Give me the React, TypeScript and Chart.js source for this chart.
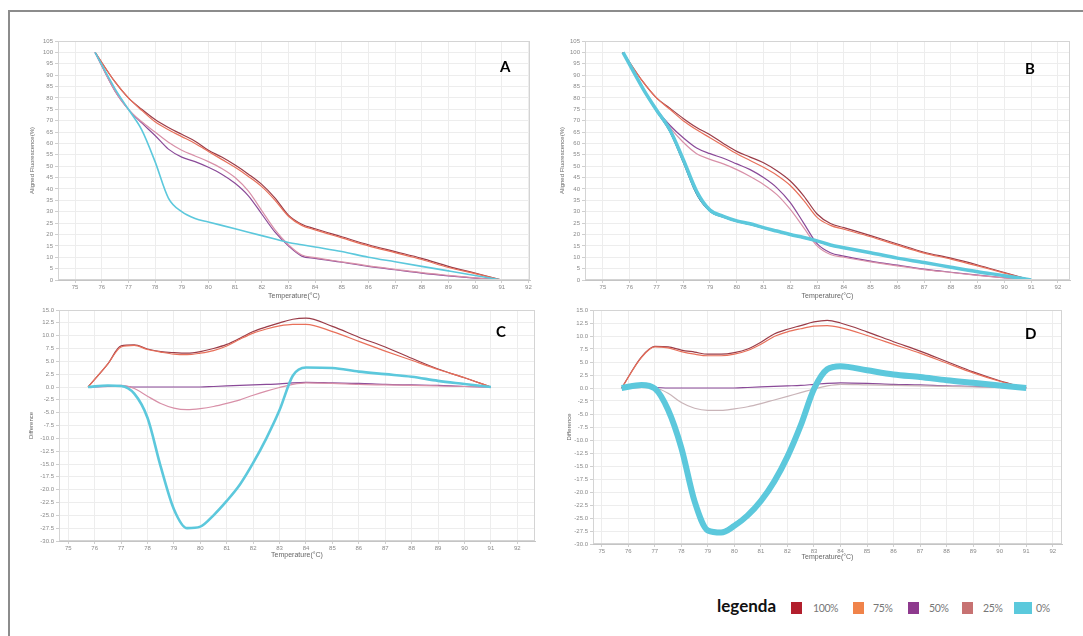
import React, { useEffect, useRef } from 'react';
import { Chart, registerables } from 'chart.js';
Chart.register(...registerables);

// ---------- shared data ----------
const temps = [75.75, 76.5, 77, 77.5, 78, 78.5, 79, 79.5, 80, 80.5, 81, 81.5, 82, 82.5, 83, 83.5, 84, 85, 86, 87, 88, 89, 90, 91];
const xTickValues = [75, 76, 77, 78, 79, 80, 81, 82, 83, 84, 85, 86, 87, 88, 89, 90, 91, 92];
const seriesLabels = ['100%', '75%', '50%', '25%', '0%'];
const legendColors = ['#b21f2d', '#f0834a', '#8e3a8e', '#c77272', '#5bc9dc'];
const lineColors = ['#9a3c48', '#e8705a', '#8a4a98', '#d890a8', '#5cc8dc'];

// ---------- Panel A (aligned fluorescence) ----------
const a100 = [100, 87, 80, 75, 70.5, 67, 64, 61, 57, 54, 50.5, 46.5, 42, 36, 28.5, 24.5, 22.5, 19, 15.5, 12.5, 9.5, 6, 3, 0];
const a75 = [100, 87, 80, 74.5, 69.5, 66, 63, 60, 56.5, 53, 49.5, 45.5, 41, 35, 28, 24, 22, 18.5, 15, 12, 9, 5.5, 2.8, 0];
const a50 = [100, 83, 75, 69, 63.5, 57.5, 54, 52, 49.5, 46.5, 42.5, 37, 29, 21, 15, 10.5, 9.5, 7.8, 6, 4.5, 3, 1.8, 0.8, 0];
const a25 = [100, 83, 75, 69.5, 65, 60.5, 57, 54.5, 52, 49, 45, 39, 30.5, 22, 15.5, 11, 9.8, 8, 6.2, 4.7, 3.2, 2, 0.9, 0];
const a0 = [100, 84, 75, 66, 52, 36, 30, 27, 25.5, 24, 22.5, 21, 19.5, 18, 16.5, 15.5, 14.5, 12.5, 10, 8, 6, 4, 2, 0];

// ---------- Panel B (aligned fluorescence) ----------
const b100 = [100, 87, 80, 75.5, 71, 67, 63.8, 60, 56.5, 54, 51.5, 48, 43.5, 37, 29, 24.8, 23, 19.5, 15.8, 12.2, 9.6, 6.6, 3.3, 0];
const b75 = [100, 87, 80, 75, 70, 66, 62.5, 59, 55.5, 52.5, 49.5, 46, 41.5, 35, 27.5, 24, 22.3, 19, 15.3, 11.8, 9.2, 6.2, 3, 0];
const b50 = [100, 84, 75, 68, 62.5, 58, 55.5, 53.5, 51, 48.5, 45, 40.5, 34, 25, 16, 12, 10.5, 8.3, 6.5, 4.8, 3.4, 2.1, 1, 0];
const b25 = [100, 84, 75, 67, 60.5, 55.5, 53, 51, 48.5, 45.5, 42, 37.5, 31, 23, 15, 11.2, 10, 8, 6.2, 4.6, 3.3, 2, 0.9, 0];
const b0 = [100, 84, 74.7, 66, 53, 39, 30.7, 28, 26, 24.7, 23, 21.5, 20, 18.7, 17.2, 15.4, 14.2, 12, 9.6, 7.7, 5.6, 3.6, 1.9, 0];
const b0rep = [100, 83.5, 74, 65, 51.5, 37.5, 30, 27.5, 25.6, 24.3, 22.7, 21.2, 19.7, 18.4, 16.9, 15.1, 13.9, 11.8, 9.4, 7.5, 5.5, 3.5, 1.8, 0];

// ---------- Panel C (difference) ----------
const c100 = [0, 4.5, 8.0, 8.2, 7.4, 6.9, 6.7, 6.6, 6.9, 7.5, 8.3, 9.5, 10.8, 11.7, 12.5, 13.2, 13.4, 11.8, 9.7, 7.8, 5.6, 3.5, 1.8, 0];
const c75 = [0, 4.5, 7.8, 8.1, 7.3, 6.8, 6.4, 6.3, 6.6, 7.1, 8.0, 9.3, 10.5, 11.3, 11.9, 12.2, 12.2, 10.8, 8.9, 7.0, 5.2, 3.4, 1.8, 0];
const c50 = [0, 0.1, 0.2, 0, 0, 0, 0, 0, 0, 0.1, 0.2, 0.3, 0.4, 0.5, 0.6, 0.8, 0.9, 0.8, 0.7, 0.5, 0.4, 0.3, 0.1, 0];
const c25 = [0, 0.2, 0.3, -0.3, -1.8, -3.2, -4.1, -4.4, -4.2, -3.8, -3.2, -2.5, -1.6, -0.8, -0.1, 0.5, 0.8, 0.7, 0.5, 0.4, 0.3, 0.2, 0.1, 0];
const c0 = [0, 0.3, 0.2, -1.3, -6, -15.5, -23.8, -27.5, -27.2, -25, -22.2, -19, -14.8, -10, -4.5, 2.2, 3.8, 3.7, 3.0, 2.5, 2.0, 1.2, 0.6, 0];

// ---------- Panel D (difference) ----------
const d100 = [0, 6.0, 8.0, 7.9, 7.3, 6.9, 6.5, 6.5, 6.8, 7.5, 8.8, 10.4, 11.3, 12.0, 12.7, 13.0, 12.5, 10.8, 8.9, 7.1, 5.1, 3.1, 1.4, 0];
const d75 = [0, 5.9, 7.9, 7.7, 7.0, 6.5, 6.2, 6.2, 6.5, 7.2, 8.4, 9.9, 10.8, 11.4, 11.9, 12.0, 11.6, 10.1, 8.4, 6.7, 4.8, 2.9, 1.3, 0];
const d50 = [0, 0.1, 0.1, 0, 0, 0, 0, 0, 0, 0.1, 0.2, 0.3, 0.4, 0.5, 0.7, 0.9, 1.0, 0.9, 0.7, 0.6, 0.4, 0.3, 0.1, 0];
const d25 = [0, 0.1, 0, -1.0, -2.8, -3.9, -4.3, -4.3, -4.0, -3.6, -3.0, -2.3, -1.6, -0.9, -0.2, 0.4, 0.7, 0.6, 0.5, 0.4, 0.3, 0.2, 0.1, 0];
const d0 = [0, 0.6, -0.1, -4.2, -11.5, -21.8, -27.4, -27.8, -26.5, -24.5, -21.7, -18, -13.2, -7.2, -0.2, 3.6, 4.2, 3.4, 2.6, 2.1, 1.5, 1.0, 0.5, 0];
const d0rep = [0, 0.4, -0.4, -4.8, -12.5, -22.6, -27.2, -27.4, -26.0, -24.0, -21.2, -17.4, -12.6, -6.6, 0.4, 4.0, 4.5, 3.7, 2.9, 2.3, 1.7, 1.1, 0.6, 0];

const FONT = "'Liberation Sans', Arial, sans-serif";

type Series = { data: number[]; color: string; width: number; label: string };

type PanelProps = {
  left: number; top: number; width: number; height: number;
  yAxisWidth: number; xMin: number; xMax: number; yMin: number; yMax: number; yStep: number;
  decimals: number; yTitle: string; yTitlePad: number; xTitlePad: number;
  series: Series[];
};

const framePlugin = {
  id: 'plotFrame',
  afterDraw(chart: any) {
    const { ctx, chartArea } = chart;
    ctx.save();
    ctx.strokeStyle = '#d4d4d4';
    ctx.lineWidth = 1;
    ctx.strokeRect(chartArea.left + 0.5, chartArea.top + 0.5, chartArea.right - chartArea.left - 1, chartArea.bottom - chartArea.top - 1);
    ctx.restore();
  },
};

function Panel(p: PanelProps) {
  const ref = useRef<HTMLCanvasElement | null>(null);
  useEffect(() => {
    if (!ref.current) return;
    const chart = new Chart(ref.current, {
      type: 'line',
      data: {
        datasets: p.series.map((s) => ({
          label: s.label,
          data: temps.map((t, i) => ({ x: t, y: s.data[i] })),
          borderColor: s.color,
          backgroundColor: s.color,
          borderWidth: s.width,
          pointRadius: 0,
          fill: false,
          cubicInterpolationMode: 'monotone' as const,
        })),
      },
      options: {
        animation: false,
        responsive: false,
        maintainAspectRatio: false,
        layout: { padding: { top: 7, right: 10, left: 0, bottom: 0 } },
        plugins: { legend: { display: false }, tooltip: { enabled: false } },
        scales: {
          x: {
            type: 'linear',
            min: p.xMin,
            max: p.xMax,
            afterBuildTicks: (s: any) => { s.ticks = xTickValues.map((v) => ({ value: v })); },
            afterFit: (s: any) => { s.height = 24; s.paddingLeft = 0; s.paddingRight = 0; },
            grid: { color: '#ededed', tickLength: 3, tickColor: '#cfcfcf' },
            border: { color: '#c4c4c4' },
            ticks: { font: { size: 6, family: FONT }, color: '#8a8a8a', padding: 1, maxRotation: 0, autoSkip: false, callback: (v: any) => String(v) },
            title: { display: true, text: 'Temperature(°C)', font: { size: 7, family: FONT }, color: '#666', padding: { top: 0, bottom: p.xTitlePad } },
          },
          y: {
            type: 'linear',
            min: p.yMin,
            max: p.yMax,
            afterBuildTicks: (s: any) => {
              const t: any[] = [];
              for (let v = p.yMin; v <= p.yMax + 1e-6; v += p.yStep) t.push({ value: Math.round(v * 100) / 100 });
              s.ticks = t;
            },
            afterFit: (s: any) => { s.width = p.yAxisWidth; s.paddingTop = 0; s.paddingBottom = 0; },
            grid: { color: '#ededed', tickLength: 3, tickColor: '#cfcfcf' },
            border: { color: '#c4c4c4' },
            ticks: { font: { size: 6, family: FONT }, color: '#8a8a8a', padding: 2, autoSkip: false, callback: (v: any) => Number(v).toFixed(p.decimals) },
            title: { display: true, text: p.yTitle, font: { size: 6, family: FONT }, color: '#666', padding: { top: p.yTitlePad, bottom: 0 } },
          },
        },
      },
      plugins: [framePlugin],
    } as any);
    return () => chart.destroy();
  }, []);
  return (
    <canvas
      ref={ref}
      width={p.width}
      height={p.height}
      style={{ position: 'absolute', left: p.left, top: p.top, width: p.width, height: p.height }}
    />
  );
}

const mk = (arrs: number[][], cyanWidth: number, pinkColor: string, rep?: number[]): Series[] => {
  const s: Series[] = [];
  s.push({ data: arrs[4], color: lineColors[4], width: cyanWidth, label: seriesLabels[4] });
  if (rep) s.push({ data: rep, color: '#2c6f8c', width: 1, label: seriesLabels[4] + ' rep' });
  for (let i = 3; i >= 0; i--) s.push({ data: arrs[i], color: i === 3 ? pinkColor : lineColors[i], width: 1.2, label: seriesLabels[i] });
  return s;
};

const letterStyle: React.CSSProperties = {
  position: 'absolute', fontFamily: "Lato, 'Open Sans', sans-serif", fontWeight: 700, fontSize: 15, color: '#000', lineHeight: '15px',
};

export default function App() {
  return (
    <div style={{ position: 'fixed', left: 0, top: 0, width: 1083, height: 636, background: '#fff', overflow: 'hidden' }}>
      <div style={{ position: 'absolute', left: 8, top: 10, width: 1083, height: 640, borderTop: '2px solid #8c8c8c', borderLeft: '2px solid #8c8c8c' }} />
      <Panel left={20} top={34} width={520} height={270} yAxisWidth={38} xMin={74.36} xMax={92.06} yMin={0} yMax={105} yStep={5}
        decimals={0} yTitle="Aligned Fluorescence(%)" yTitlePad={9} xTitlePad={4} series={mk([a100, a75, a50, a25, a0], 1.6, lineColors[3])} />
      <Panel left={555} top={34} width={525} height={270} yAxisWidth={30} xMin={74.33} xMax={92.45} yMin={0} yMax={105} yStep={5}
        decimals={0} yTitle="Aligned Fluorescence(%)" yTitlePad={4} xTitlePad={4} series={mk([b100, b75, b50, b25, b0], 3.5, lineColors[3], b0rep)} />
      <Panel left={20} top={303} width={525} height={262} yAxisWidth={39} xMin={74.65} xMax={92.67} yMin={-30} yMax={15} yStep={2.5}
        decimals={1} yTitle="Difference" yTitlePad={8} xTitlePad={6} series={mk([c100, c75, c50, c25, c0], 2.6, lineColors[3])} />
      <Panel left={560} top={303} width={512} height={265} yAxisWidth={33} xMin={74.67} xMax={92.35} yMin={-30} yMax={15} yStep={2.5}
        decimals={1} yTitle="Difference" yTitlePad={6} xTitlePad={7} series={mk([d100, d75, d50, d25, d0], 6, '#c9b4b8', d0rep)} />

      <div style={{ ...letterStyle, left: 500, top: 59 }}>A</div>
      <div style={{ ...letterStyle, left: 1025, top: 61 }}>B</div>
      <div style={{ ...letterStyle, left: 496, top: 324 }}>C</div>
      <div style={{ ...letterStyle, left: 1025, top: 326 }}>D</div>

      <div style={{ position: 'absolute', left: 717, top: 596, fontFamily: "Lato, 'Open Sans', sans-serif", fontWeight: 700, fontSize: 17, color: '#111', lineHeight: '20px' }}>legenda</div>
      {seriesLabels.map((lab, i) => {
        const sq = [791, 853, 908, 962, 1014][i];
        const sw = i === 4 ? 18 : 11;
        const tx = [813, 873, 929, 983, 1036][i];
        return (
          <React.Fragment key={lab}>
            <div style={{ position: 'absolute', left: sq, top: 602, width: sw, height: 12, background: legendColors[i] }} />
            <div style={{ position: 'absolute', left: tx, top: 601, fontFamily: "Lato, sans-serif", fontSize: 10.5, color: '#777', lineHeight: '14px', letterSpacing: -0.4 }}>{lab}</div>
          </React.Fragment>
        );
      })}
    </div>
  );
}
